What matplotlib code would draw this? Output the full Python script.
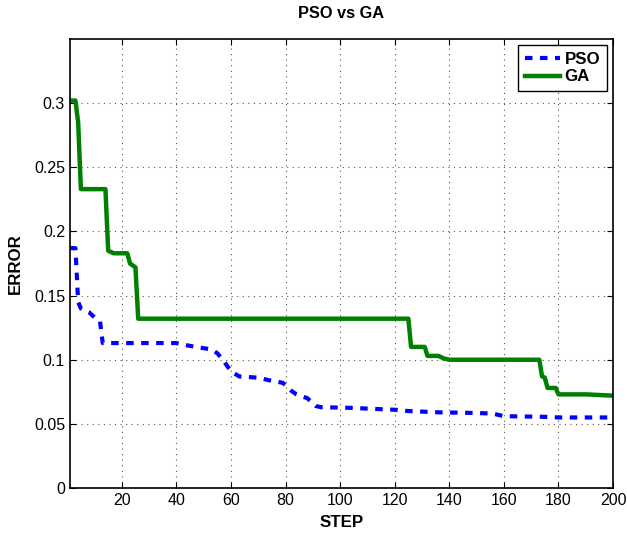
import matplotlib
matplotlib.use("Agg")
import matplotlib.pyplot as plt

plt.rcParams['font.family'] = ['Liberation Sans', 'DejaVu Sans']

# best error per step (breakpoints where the curve changes)
pso_step = [1, 3, 4, 5, 8, 10, 12, 13, 40, 42, 47, 53, 55, 57, 59, 60, 63, 70, 74, 79,
            82, 84, 88, 91, 93, 104, 109, 120, 125, 136, 150, 156, 160, 175, 180, 200]
pso_err = [0.187, 0.187, 0.145, 0.140, 0.137, 0.133, 0.130, 0.113, 0.113, 0.112, 0.110,
           0.108, 0.105, 0.100, 0.094, 0.091, 0.087, 0.086, 0.084, 0.082, 0.076, 0.073,
           0.070, 0.064, 0.063, 0.0625, 0.062, 0.061, 0.060, 0.059, 0.0585, 0.058,
           0.056, 0.0555, 0.055, 0.055]

ga_step = [1, 3, 4, 5, 14, 15, 17, 22, 23, 25, 26, 125, 126, 131, 132, 136, 138, 140,
           173, 174, 175, 176, 179, 180, 190, 200]
ga_err = [0.302, 0.302, 0.285, 0.233, 0.233, 0.185, 0.183, 0.183, 0.175, 0.172, 0.132,
          0.132, 0.110, 0.110, 0.103, 0.103, 0.101, 0.100, 0.100, 0.087, 0.086, 0.078,
          0.078, 0.073, 0.073, 0.072]

x_ticks = [20, 40, 60, 80, 100, 120, 140, 160, 180, 200]
y_ticks = [0, 0.05, 0.1, 0.15, 0.2, 0.25, 0.3]
y_labels = ['0', '0.05', '0.1', '0.15', '0.2', '0.25', '0.3']

fig = plt.figure(figsize=(6.27, 5.34), dpi=100)
ax = fig.add_axes([0.1116, 0.0861, 0.8661, 0.8408])

ax.plot(pso_step, pso_err, color='#0000ff', lw=3, linestyle=(0, (1.8, 1.8)), label='PSO')
ax.plot(ga_step, ga_err, color='#008000', lw=3.2, label='GA')

ax.set_xlim(1, 200)
ax.set_ylim(0, 0.35)
ax.set_xticks(x_ticks)
ax.set_yticks(y_ticks)
ax.set_yticklabels(y_labels)
ax.tick_params(direction='in', top=True, right=True, labelsize=11.5, length=4)
ax.grid(True, linestyle=(0, (1, 4)), color='#555555', linewidth=0.8)
for s in ax.spines.values():
    s.set_linewidth(1.2)

ax.set_title('PSO vs GA', fontsize=11.8, fontweight='bold', pad=15)
ax.set_xlabel('STEP', fontsize=12.2, fontweight='bold', labelpad=5)
ax.set_ylabel('ERROR', fontsize=12.2, fontweight='bold', labelpad=8)

leg = ax.legend(loc='upper right', fancybox=False, edgecolor='black', framealpha=1,
                prop={'weight': 'bold', 'size': 12.2}, handlelength=2.1,
                handletextpad=0.25, borderpad=0.4, labelspacing=0.15,
                borderaxespad=0.36)
leg.get_frame().set_linewidth(1.0)

fig.savefig('out.png', dpi=100)
